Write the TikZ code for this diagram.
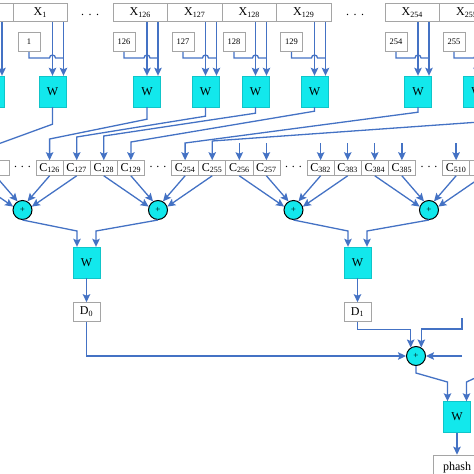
\documentclass[tikz,border=0pt]{standalone}
\usepackage{fontspec}
\setmainfont{Liberation Serif}
\usepackage{tikz}
\usetikzlibrary{arrows.meta}
\definecolor{wireblue}{RGB}{68,114,196}
\definecolor{boxgray}{RGB}{165,165,165}
\definecolor{wcyan}{RGB}{18,232,236}

\begin{document}
\begin{tikzpicture}[x=1pt,y=-1pt,
	xbox/.style={draw=boxgray,line width=0.6pt,minimum width=54.5pt,minimum height=18.5pt,inner sep=0pt,font=\fontsize{12}{12}\selectfont},
	nbox/.style={draw=boxgray,line width=0.6pt,minimum width=22pt,minimum height=19.5pt,inner sep=0pt,font=\fontsize{8.5}{8.5}\selectfont},
	wbox/.style={fill=wcyan,draw=wcyan!85!black,line width=0.4pt,minimum width=27pt,minimum height=31pt,inner sep=0pt,font=\fontsize{12}{12}\selectfont},
	cbox/.style={draw=boxgray,line width=0.6pt,minimum width=27.1pt,minimum height=15pt,inner sep=0pt,font=\fontsize{12}{12}\selectfont},
	dbox/.style={draw=boxgray,line width=0.6pt,minimum width=27pt,minimum height=19pt,inner sep=0pt,font=\fontsize{12}{12}\selectfont},
	adder/.style={circle,fill=wcyan,draw=black,line width=1pt,minimum size=19pt,inner sep=0pt,font=\fontsize{9}{9}\selectfont},
	dots/.style={inner sep=0pt,font=\fontsize{12}{12}\selectfont},
	wire/.style={draw=wireblue,line width=1.3pt},
	arr/.style={wire,-{Stealth[length=8pt,width=7.5pt,inset=1.5pt]}}]
	\useasboundingbox (0,0) rectangle (474,474);
	\clip (0,0) rectangle (474,474);

	\node[xbox] (xa) at (-14.25,12.5) {};
	\node[wbox] (wa) at (-9,91.5) {};
	\draw[arr] (xa.south -| -9,0) -- (wa.north -| -9,0);
	\draw[arr] (xa.south -| 2,0) -- (wa.north -| 2,0);
	\foreach \n/\lx/\lbl/\nb/\w in {b/13/1/29/52.5, c/113/126/124/147, d/167.5/127/183/205.5, e/222/128/234/255.5, f/276.5/129/291.5/314.5, g/385/254/396/418, h/439.5/255/454/477}{
		\pgfmathsetmacro\wr{\w+11}
		\node[xbox] (x\n) at (\lx+27.25,12.5) {X\textsubscript{\lbl}};
		\node[nbox] (n\n) at (\nb,42) {\lbl};
		\node[wbox] (w\n) at (\w,91.5) {W};
		\draw[arr] (x\n.south -| \w,0) -- (w\n.north -| \w,0);
		\draw[arr] (x\n.south -| \wr,0) -- (w\n.north -| \wr,0);
		\draw[wire] (n\n.south) |- (\w-3,58) arc[start angle=180,end angle=0,radius=3pt] -- (\wr,58);
	}
	\node[dots] (dt1) at (90,15) {.\hspace{4.5pt}.\hspace{4.5pt}.};
	\node[dots] (dt2) at (355,15) {.\hspace{4.5pt}.\hspace{4.5pt}.};

	\node[cbox] (ca) at (-31.7,168) {};
	\node[cbox] (cb) at (-4.6,168) {};
	\node[cbox] (cz) at (483.2,168) {};
	\foreach \cid/\s in {126/2,127/3,128/4,129/5,254/7,255/8,256/9,257/10,382/12,383/13,384/14,385/15,510/17}
		\node[cbox] (c\cid) at (-4.6+27.1*\s,168) {C\textsubscript{\cid}};
	\foreach \s in {1,6,11,16}
		\node[dots] (dc\s) at (-4.6+27.1*\s,167) {.\hspace{4pt}.\hspace{4pt}.};

	\foreach \w/\cn/\e/\f in {b/cb/17/145, c/c126/12/139, d/c127/9/137, e/c128/6/136, f/c129/4/142, g/c254/5/143, h/c255/15/141}
		\draw[arr] (w\w.south) -- ++(0,\e) -- (\cn.north |- 0,\f) -- (\cn.north);
	\foreach \cn in {c256,c257,c382,c383,c384,c385,c510,cz}
		\draw[arr] (\cn.north |- 0,143) -- (\cn.north);

	\node[adder] (s1) at (22.5,210) {+};
	\node[adder] (s2) at (158,210) {+};
	\node[adder] (s3) at (293.5,210) {+};
	\node[adder] (s4) at (429,210) {+};
	\foreach \src/\dst/\ang in {ca/s1/160, cb/s1/120, c126/s1/60, c127/s1/20,
		c128/s2/160, c129/s2/120, c254/s2/60, c255/s2/20,
		c256/s3/160, c257/s3/120, c382/s3/60, c383/s3/20,
		c384/s4/160, c385/s4/120, c510/s4/60, cz/s4/20}
		\draw[arr] (\src.south) -- (\dst.\ang);

	\node[wbox] (wl) at (86.5,262.5) {W};
	\node[wbox] (wm) at (357.5,262.5) {W};
	\draw[arr] (s1.south) -- (77,231) -- (wl.north -| 77,0);
	\draw[arr] (s2.south) -- (96,231) -- (wl.north -| 96,0);
	\draw[arr] (s3.south) -- (348,231) -- (wm.north -| 348,0);
	\draw[arr] (s4.south) -- (367,231) -- (wm.north -| 367,0);
	\node[dbox] (d0) at (86.5,312) {D\textsubscript{0}};
	\node[dbox] (d1) at (357.5,312) {D\textsubscript{1}};
	\draw[arr] (wl) -- (d0);
	\draw[arr] (wm) -- (d1);

	\node[adder] (sf) at (416,356) {+};
	\coordinate (d2) at (462,318);
	\coordinate (d3) at (462,356);
	\coordinate (e1) at (490,371);
	\draw[arr] (d0.south) |- (sf.west);
	\draw[arr] (d1.south) -- ++(0,7.5) -| (sf.122);
	\draw[arr] (d2) -- (462,329) -| (sf.58);
	\draw[arr] (d3) -- (sf.east);
	\node[wbox] (wf) at (457,417) {W};
	\draw[arr] (sf.south) -- ++(0,7) -- (447.5,382) -- (wf.north -| 447.5,0);
	\draw[arr] (e1) -- (466.5,382) -- (wf.north -| 466.5,0);
	\node[dbox,minimum width=48pt,minimum height=25pt] (ph) at (457,467.5) {phash};
	\draw[arr] (wf) -- (ph);
\end{tikzpicture}
\end{document}
